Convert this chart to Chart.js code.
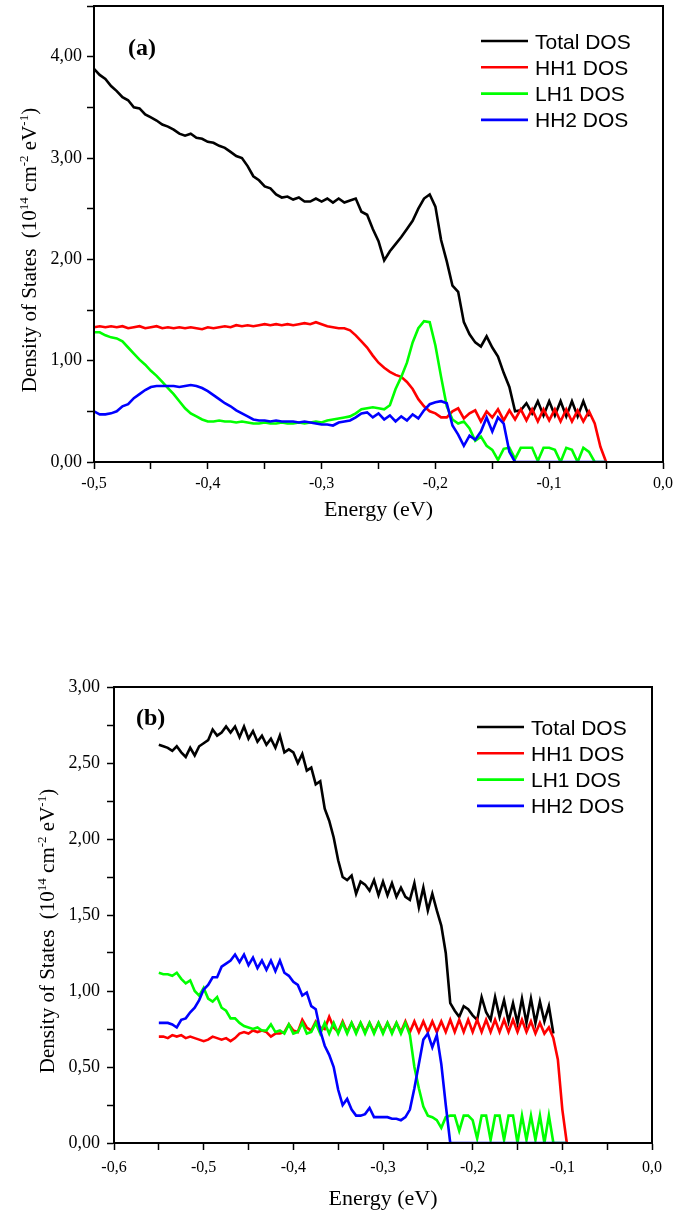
<!DOCTYPE html>
<html>
<head>
<meta charset="utf-8">
<script src="https://cdn.jsdelivr.net/npm/chart.js@4"></script>
<style>
  body { margin: 0; background: #fff; }
  canvas { position: absolute; left: 0; }
  #chartA { top: 0; }
  #chartB { top: 560px; }
</style>
</head>
<body>
<canvas id="chartA" width="673" height="540"></canvas>
<canvas id="chartB" width="673" height="652"></canvas>
<script>
const seriesNames = ["Total DOS", "HH1 DOS", "LH1 DOS", "HH2 DOS"];
const seriesColors = ["#000000", "#ff0000", "#00ff00", "#0000ff"];

// panel (a): energy in eV
const energyA = [-0.5, -0.495, -0.49, -0.485, -0.48, -0.475, -0.47, -0.465, -0.46, -0.455,
  -0.45, -0.445, -0.44, -0.435, -0.43, -0.425, -0.42, -0.415, -0.41, -0.405,
  -0.4, -0.395, -0.39, -0.385, -0.38, -0.375, -0.37, -0.365, -0.36, -0.355,
  -0.35, -0.345, -0.34, -0.335, -0.33, -0.325, -0.32, -0.315, -0.31, -0.305,
  -0.3, -0.295, -0.29, -0.285, -0.28, -0.275, -0.27, -0.265, -0.26, -0.255,
  -0.25, -0.245, -0.24, -0.235, -0.23, -0.225, -0.22, -0.215, -0.21, -0.205,
  -0.2, -0.195, -0.19, -0.185, -0.18, -0.175, -0.17, -0.165, -0.16, -0.155,
  -0.15, -0.145, -0.14, -0.135, -0.13, -0.125, -0.12, -0.115, -0.11, -0.105,
  -0.1, -0.095, -0.09, -0.085, -0.08, -0.075, -0.07, -0.065, -0.06, -0.055,
  -0.05];
const totalA = [3.88, 3.82, 3.78, 3.71, 3.66, 3.60, 3.57, 3.50, 3.49, 3.43,
  3.40, 3.37, 3.33, 3.31, 3.28, 3.24, 3.22, 3.24, 3.20, 3.19,
  3.16, 3.15, 3.12, 3.10, 3.06, 3.02, 3.00, 2.92, 2.82, 2.78,
  2.72, 2.70, 2.64, 2.61, 2.62, 2.59, 2.61, 2.57, 2.57, 2.60,
  2.57, 2.60, 2.56, 2.60, 2.56, 2.58, 2.60, 2.47, 2.44, 2.30,
  2.18, 1.99, 2.08, 2.15, 2.22, 2.30, 2.38, 2.50, 2.60, 2.64,
  2.52, 2.19, 1.98, 1.74, 1.68, 1.38, 1.26, 1.18, 1.14, 1.24,
  1.13, 1.04, 0.88, 0.74, 0.50, 0.51, 0.58, 0.48, 0.60, 0.46,
  0.60, 0.46, 0.60, 0.45, 0.60, 0.45, 0.60, 0.45, null, null,
  null];
const hh1A = [1.33, 1.34, 1.33, 1.34, 1.33, 1.34, 1.32, 1.33, 1.34, 1.32,
  1.33, 1.34, 1.32, 1.33, 1.32, 1.33, 1.32, 1.33, 1.32, 1.31,
  1.33, 1.32, 1.33, 1.34, 1.33, 1.35, 1.34, 1.35, 1.34, 1.35,
  1.36, 1.35, 1.36, 1.35, 1.36, 1.35, 1.36, 1.37, 1.36, 1.38,
  1.36, 1.34, 1.33, 1.32, 1.32, 1.30, 1.25, 1.19, 1.13, 1.05,
  0.98, 0.93, 0.89, 0.86, 0.84, 0.79, 0.72, 0.62, 0.55, 0.50,
  0.48, 0.44, 0.44, 0.50, 0.53, 0.43, 0.48, 0.51, 0.40, 0.50,
  0.44, 0.52, 0.41, 0.51, 0.42, 0.52, 0.41, 0.52, 0.40, 0.52,
  0.41, 0.52, 0.40, 0.52, 0.40, 0.51, 0.40, 0.50, 0.38, 0.15,
  0.00];
const lh1A = [1.28, 1.28, 1.25, 1.23, 1.22, 1.19, 1.13, 1.07, 1.01, 0.96,
  0.90, 0.85, 0.79, 0.73, 0.67, 0.60, 0.53, 0.48, 0.45, 0.42,
  0.40, 0.40, 0.41, 0.40, 0.40, 0.39, 0.40, 0.39, 0.38, 0.38,
  0.39, 0.38, 0.38, 0.39, 0.38, 0.38, 0.39, 0.38, 0.39, 0.40,
  0.39, 0.41, 0.42, 0.43, 0.44, 0.45, 0.48, 0.52, 0.53, 0.54,
  0.53, 0.52, 0.56, 0.72, 0.84, 0.98, 1.18, 1.32, 1.39, 1.38,
  1.15, 0.84, 0.55, 0.42, 0.38, 0.40, 0.33, 0.21, 0.25, 0.16,
  0.12, 0.02, 0.13, 0.14, 0.03, 0.14, 0.14, 0.14, 0.01, 0.14,
  0.14, 0.12, 0.00, 0.14, 0.12, 0.00, 0.14, 0.10, 0.00, 0.00,
  0.00];
const hh2A = [0.50, 0.47, 0.47, 0.48, 0.50, 0.55, 0.57, 0.63, 0.67, 0.71,
  0.74, 0.75, 0.75, 0.75, 0.75, 0.74, 0.75, 0.76, 0.75, 0.73,
  0.70, 0.66, 0.62, 0.58, 0.55, 0.51, 0.48, 0.45, 0.42, 0.41,
  0.41, 0.40, 0.41, 0.40, 0.40, 0.40, 0.39, 0.40, 0.39, 0.38,
  0.37, 0.37, 0.36, 0.39, 0.40, 0.41, 0.44, 0.48, 0.49, 0.44,
  0.48, 0.42, 0.46, 0.40, 0.45, 0.41, 0.47, 0.43, 0.51, 0.57,
  0.59, 0.60, 0.58, 0.36, 0.27, 0.16, 0.26, 0.22, 0.30, 0.44,
  0.30, 0.44, 0.38, 0.10, 0.00, 0.00, 0.00, 0.00, 0.00, 0.00,
  0.00, 0.00, 0.00, 0.00, 0.00, 0.00, 0.00, 0.00, 0.00, 0.00,
  0.00];

// panel (b): energy in eV
const energyB = [-0.55, -0.545, -0.54, -0.535, -0.53, -0.525, -0.52, -0.515, -0.51, -0.505,
  -0.5, -0.495, -0.49, -0.485, -0.48, -0.475, -0.47, -0.465, -0.46, -0.455,
  -0.45, -0.445, -0.44, -0.435, -0.43, -0.425, -0.42, -0.415, -0.41, -0.405,
  -0.4, -0.395, -0.39, -0.385, -0.38, -0.375, -0.37, -0.365, -0.36, -0.355,
  -0.35, -0.345, -0.34, -0.335, -0.33, -0.325, -0.32, -0.315, -0.31, -0.305,
  -0.3, -0.295, -0.29, -0.285, -0.28, -0.275, -0.27, -0.265, -0.26, -0.255,
  -0.25, -0.245, -0.24, -0.235, -0.23, -0.225, -0.22, -0.215, -0.21, -0.205,
  -0.2, -0.195, -0.19, -0.185, -0.18, -0.175, -0.17, -0.165, -0.16, -0.155,
  -0.15, -0.145, -0.14, -0.135, -0.13, -0.125, -0.12, -0.115, -0.11, -0.105,
  -0.1, -0.095];
const totalB = [2.62, 2.61, 2.60, 2.58, 2.61, 2.57, 2.54, 2.60, 2.55, 2.61,
  2.63, 2.65, 2.72, 2.68, 2.70, 2.74, 2.70, 2.74, 2.67, 2.74,
  2.66, 2.71, 2.64, 2.68, 2.62, 2.66, 2.60, 2.68, 2.57, 2.59,
  2.57, 2.50, 2.56, 2.45, 2.47, 2.36, 2.38, 2.20, 2.12, 2.01,
  1.86, 1.75, 1.73, 1.76, 1.64, 1.72, 1.70, 1.66, 1.73, 1.63,
  1.72, 1.63, 1.71, 1.62, 1.68, 1.62, 1.60, 1.71, 1.55, 1.68,
  1.53, 1.64, 1.53, 1.43, 1.25, 0.92, 0.87, 0.83, 0.90, 0.88,
  0.84, 0.81, 0.96, 0.86, 0.81, 0.96, 0.83, 0.94, 0.80, 0.92,
  0.79, 0.95, 0.79, 0.95, 0.79, 0.93, 0.80, 0.90, 0.72, null,
  null, null];
const hh1B = [0.70, 0.70, 0.69, 0.71, 0.70, 0.71, 0.69, 0.70, 0.69, 0.68,
  0.67, 0.68, 0.70, 0.69, 0.68, 0.69, 0.67, 0.69, 0.72, 0.73,
  0.72, 0.74, 0.73, 0.74, 0.73, 0.70, 0.72, 0.72, 0.73, 0.78,
  0.74, 0.73, 0.81, 0.76, 0.74, 0.80, 0.76, 0.75, 0.83, 0.76,
  0.73, 0.80, 0.73, 0.79, 0.73, 0.79, 0.73, 0.79, 0.73, 0.79,
  0.73, 0.79, 0.73, 0.79, 0.73, 0.80, 0.73, 0.80, 0.73, 0.80,
  0.73, 0.80, 0.73, 0.80, 0.73, 0.81, 0.73, 0.81, 0.73, 0.81,
  0.73, 0.81, 0.73, 0.81, 0.73, 0.81, 0.73, 0.81, 0.73, 0.81,
  0.73, 0.81, 0.73, 0.80, 0.72, 0.79, 0.72, 0.76, 0.69, 0.55,
  0.22, 0.00];
const lh1B = [1.12, 1.11, 1.11, 1.10, 1.12, 1.08, 1.05, 1.07, 1.00, 0.97,
  1.02, 0.95, 0.93, 0.96, 0.89, 0.87, 0.82, 0.82, 0.79, 0.77,
  0.76, 0.75, 0.76, 0.74, 0.74, 0.78, 0.73, 0.74, 0.72, 0.78,
  0.72, 0.73, 0.79, 0.72, 0.73, 0.79, 0.72, 0.79, 0.72, 0.79,
  0.72, 0.79, 0.72, 0.79, 0.72, 0.79, 0.72, 0.79, 0.72, 0.79,
  0.72, 0.79, 0.72, 0.79, 0.72, 0.79, 0.71, 0.50, 0.36, 0.24,
  0.18, 0.17, 0.15, 0.10, 0.17, 0.18, 0.18, 0.08, 0.18, 0.18,
  0.15, 0.03, 0.18, 0.18, 0.02, 0.18, 0.18, 0.02, 0.18, 0.18,
  0.00, 0.18, 0.02, 0.18, 0.02, 0.18, 0.00, 0.18, 0.00, 0.00,
  0.00, 0.00];
const hh2B = [0.79, 0.79, 0.79, 0.78, 0.76, 0.81, 0.82, 0.86, 0.89, 0.94,
  1.01, 1.04, 1.09, 1.09, 1.16, 1.18, 1.20, 1.24, 1.19, 1.24,
  1.17, 1.22, 1.15, 1.20, 1.14, 1.20, 1.13, 1.20, 1.12, 1.10,
  1.06, 1.04, 0.97, 0.99, 0.90, 0.88, 0.74, 0.64, 0.58, 0.50,
  0.35, 0.25, 0.29, 0.22, 0.18, 0.18, 0.19, 0.23, 0.17, 0.17,
  0.17, 0.17, 0.16, 0.16, 0.15, 0.17, 0.22, 0.36, 0.52, 0.68,
  0.72, 0.63, 0.71, 0.52, 0.25, 0.00, 0.00, 0.00, 0.00, 0.00,
  0.00, 0.00, 0.00, 0.00, 0.00, 0.00, 0.00, 0.00, 0.00, 0.00,
  0.00, 0.00, 0.00, 0.00, 0.00, 0.00, 0.00, 0.00, 0.00, 0.00,
  0.00, 0.00];

Chart.defaults.font.family = '"Liberation Serif", "Times New Roman", serif';
Chart.defaults.color = "#000";

// label only every `every` units, comma as decimal mark
const tickText = (every, digits) => v => {
  const k = Math.round(v / every);
  if (Math.abs(v / every - k) > 1e-6) return "";
  return (k * every).toFixed(digits).replace(".", ",");
};

// frame, panel letter, legend inside the plot and the y title with superscripts
const decor = {
  id: "decor",
  afterDatasetsDraw(chart, args, o) {
    const { ctx, chartArea: a } = chart;
    ctx.save();
    ctx.strokeStyle = "#000";
    ctx.lineWidth = 2;
    ctx.strokeRect(a.left, a.top, a.right - a.left, a.bottom - a.top);

    ctx.fillStyle = "#000";
    ctx.textAlign = "left";
    ctx.textBaseline = "alphabetic";
    ctx.font = 'bold 24px "Liberation Serif"';
    ctx.fillText(o.panel, a.left + o.panelX, a.top + o.panelY);

    ctx.font = '21px "Liberation Sans"';
    chart.data.datasets.forEach((ds, i) => {
      const y = a.top + o.legendTop + i * 26.3;
      const x = a.right - o.legendRight;
      ctx.strokeStyle = ds.borderColor;
      ctx.lineWidth = 2.6;
      ctx.beginPath();
      ctx.moveTo(x, y);
      ctx.lineTo(x + 47, y);
      ctx.stroke();
      ctx.fillText(ds.label, x + 54, y + 7.5);
    });

    const parts = [["Density of States  (10", false], ["14", true], [" cm", false],
      ["-2", true], [" eV", false], ["-1", true], [")", false]];
    const big = '21px "Liberation Serif"', small = '13px "Liberation Serif"';
    ctx.translate(a.left - o.titleGap, (a.top + a.bottom) / 2 + 16);
    ctx.rotate(-Math.PI / 2);
    let total = 0;
    parts.forEach(([t, s]) => { ctx.font = s ? small : big; total += ctx.measureText(t).width; });
    let x = -total / 2;
    parts.forEach(([t, s]) => {
      ctx.font = s ? small : big;
      ctx.fillText(t, x, s ? -1 : 7);
      x += ctx.measureText(t).width;
    });
    ctx.restore();
  }
};

function buildChart(id, energy, values, setup) {
  return new Chart(document.getElementById(id), {
    type: "line",
    data: {
      datasets: values.map((vals, k) => ({
        label: seriesNames[k],
        data: energy.map((e, i) => ({ x: e, y: vals[i] })),
        borderColor: seriesColors[k],
        borderWidth: 2.6,
        pointRadius: 0,
        tension: 0,
        fill: false,
        order: 4 - k
      }))
    },
    options: {
      responsive: false,
      animation: false,
      layout: { padding: setup.padding },
      plugins: {
        legend: { display: false },
        tooltip: { enabled: false },
        decor: setup.decor
      },
      scales: {
        x: {
          type: "linear",
          min: setup.xMin,
          max: 0,
          afterFit: s => { s.height = setup.xHeight; s.paddingLeft = 0; s.paddingRight = 0; },
          grid: { drawOnChartArea: false, tickLength: 7, tickWidth: 1.5, tickColor: "#000" },
          border: { color: "#000", width: 2 },
          ticks: {
            stepSize: 0.05, autoSkip: false, maxRotation: 0, padding: setup.xPad,
            font: { size: 16 }, callback: tickText(0.1, 1)
          },
          title: {
            display: true, text: "Energy (eV)",
            font: { size: 22, lineHeight: 1 },
            padding: { top: 0, bottom: setup.titlePad }
          }
        },
        y: {
          min: 0,
          max: setup.yMax,
          afterFit: s => { s.width = setup.yWidth; s.paddingTop = 0; s.paddingBottom = 0; },
          grid: { drawOnChartArea: false, tickLength: 7, tickWidth: 1.5, tickColor: "#000" },
          border: { color: "#000", width: 2 },
          ticks: {
            stepSize: setup.yStep, autoSkip: false, padding: setup.yPad,
            font: { size: 18 }, callback: tickText(setup.yLabelEvery, 2)
          }
        }
      }
    },
    plugins: [decor]
  });
}

buildChart("chartA", energyA, [totalA, hh1A, lh1A, hh2A], {
  padding: { left: 0, top: 6, right: 10, bottom: 0 },
  xMin: -0.5, xHeight: 78, xPad: 5, titlePad: 19,
  yMax: 4.5, yStep: 0.5, yLabelEvery: 1, yWidth: 94, yPad: 5,
  decor: { panel: "(a)", panelX: 34, panelY: 49, legendTop: 35, legendRight: 182, titleGap: 65 }
});

buildChart("chartB", energyB, [totalB, hh1B, lh1B, hh2B], {
  padding: { left: 0, top: 127, right: 21, bottom: 0 },
  xMin: -0.6, xHeight: 69, xPad: 8, titlePad: 2,
  yMax: 3, yStep: 0.25, yLabelEvery: 0.5, yWidth: 114, yPad: 7,
  decor: { panel: "(b)", panelX: 22, panelY: 38, legendTop: 40, legendRight: 175, titleGap: 67 }
});
</script>
</body>
</html>
